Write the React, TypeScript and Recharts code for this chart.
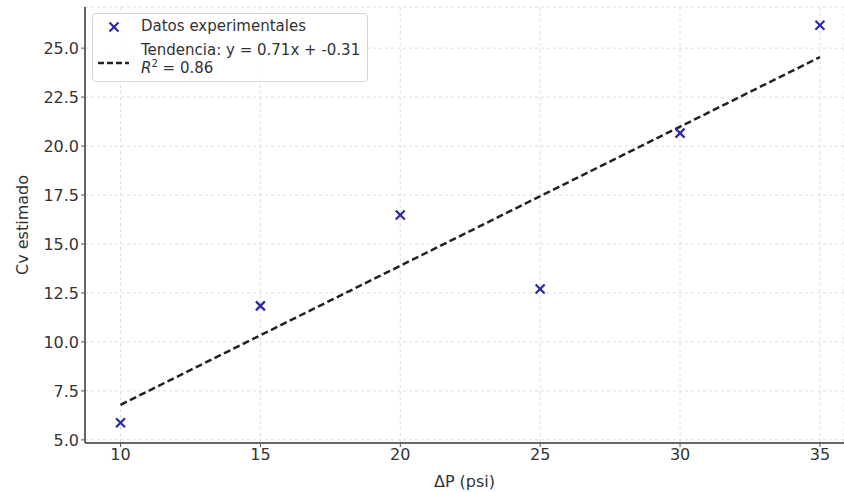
import { CartesianGrid, ComposedChart, Scatter, XAxis, YAxis } from "recharts";

const deltaP = [10, 15, 20, 25, 30, 35];
const cvEstimado = [5.87, 11.84, 16.48, 12.7, 20.66, 26.17];

// endpoints of the fitted trend line (y = 0.71x - 0.31)
const trendX = [10, 35];
const trendY = [6.79, 24.54];

const xTicks = [10, 15, 20, 25, 30, 35];
const yTicks = [5, 7.5, 10, 12.5, 15, 17.5, 20, 22.5, 25];

const points = deltaP.map((x, i) => ({ x, y: cvEstimado[i] }));
const trend = trendX.map((x, i) => ({ x, y: trendY[i] }));

const FONT = "'DejaVu Sans', sans-serif";
const BLUE = "#2a2aa8";

type ShapeProps = { cx?: number; cy?: number };

function XMark({ cx = 0, cy = 0 }: ShapeProps) {
  const r = 4.5;
  return (
    <g stroke={BLUE} strokeWidth={2.2}>
      <line x1={cx - r} y1={cy - r} x2={cx + r} y2={cy + r} />
      <line x1={cx - r} y1={cy + r} x2={cx + r} y2={cy - r} />
    </g>
  );
}

function LegendBox() {
  return (
    <div
      style={{
        position: "absolute",
        left: 92,
        top: 13,
        width: 276,
        height: 69,
        boxSizing: "border-box",
        background: "rgba(255,255,255,0.9)",
        border: "1px solid #d6d6d6",
        borderRadius: 4,
        fontFamily: FONT,
        fontSize: 15,
        color: "#333",
      }}
    >
      <svg width={40} height={68} style={{ position: "absolute", left: 0, top: 0 }}>
        <XMark cx={21} cy={13} />
        <line x1={5} y1={49} x2={36} y2={49} stroke="#222" strokeWidth={2.5} strokeDasharray="6 3" />
      </svg>
      <div style={{ position: "absolute", left: 48, top: 3, lineHeight: "18px", whiteSpace: "nowrap" }}>Datos experimentales</div>
      <div style={{ position: "absolute", left: 48, top: 27, lineHeight: "18px", whiteSpace: "nowrap" }}>
        Tendencia: y = 0.71x + -0.31
      </div>
      <div style={{ position: "absolute", left: 48, top: 45, lineHeight: "18px", whiteSpace: "nowrap" }}>
        <i>R</i>
        <sup style={{ fontSize: 10, verticalAlign: "6px", lineHeight: 0 }}>2</sup> = 0.86
      </div>
    </div>
  );
}

export default function App() {
  return (
    <div style={{ position: "absolute", left: 0, top: 0, width: 844, height: 492, background: "#fff" }}>
      <ComposedChart width={844} height={492} margin={{ top: 7, right: 0, bottom: 0, left: 0 }}>
        <CartesianGrid stroke="#dcdcdc" strokeDasharray="3 3" />
        <XAxis
          type="number"
          dataKey="x"
          domain={[8.73, 35.86]}
          allowDataOverflow
          ticks={xTicks}
          height={49}
          tick={{ fill: "#333", fontSize: 16, fontFamily: FONT }}
          tickSize={4}
          tickLine={{ stroke: "#555" }}
          axisLine={{ stroke: "#666", strokeWidth: 2 }}
          label={{ value: "ΔP (psi)", position: "insideBottom", offset: 5, fill: "#333", fontSize: 16, fontFamily: FONT }}
        />
        <YAxis
          type="number"
          dataKey="y"
          domain={[4.84, 27.1]}
          allowDataOverflow
          ticks={yTicks}
          width={85}
          tickFormatter={(v: number) => v.toFixed(1)}
          tick={{ fill: "#333", fontSize: 16, fontFamily: FONT }}
          tickSize={4}
          tickLine={{ stroke: "#555" }}
          axisLine={{ stroke: "#666", strokeWidth: 2 }}
          label={{ value: "Cv estimado", angle: -90, position: "insideLeft", offset: 22, fill: "#333", fontSize: 16, fontFamily: FONT, style: { textAnchor: "middle" } }}
        />
        <Scatter
          name="Tendencia"
          data={trend}
          line={{ stroke: "#222", strokeWidth: 2.5, strokeDasharray: "7 3.5" }}
          shape={() => <g />}
          isAnimationActive={false}
        />
        <Scatter name="Datos experimentales" data={points} shape={(p: ShapeProps) => <XMark {...p} />} isAnimationActive={false} />
      </ComposedChart>
      <LegendBox />
    </div>
  );
}
